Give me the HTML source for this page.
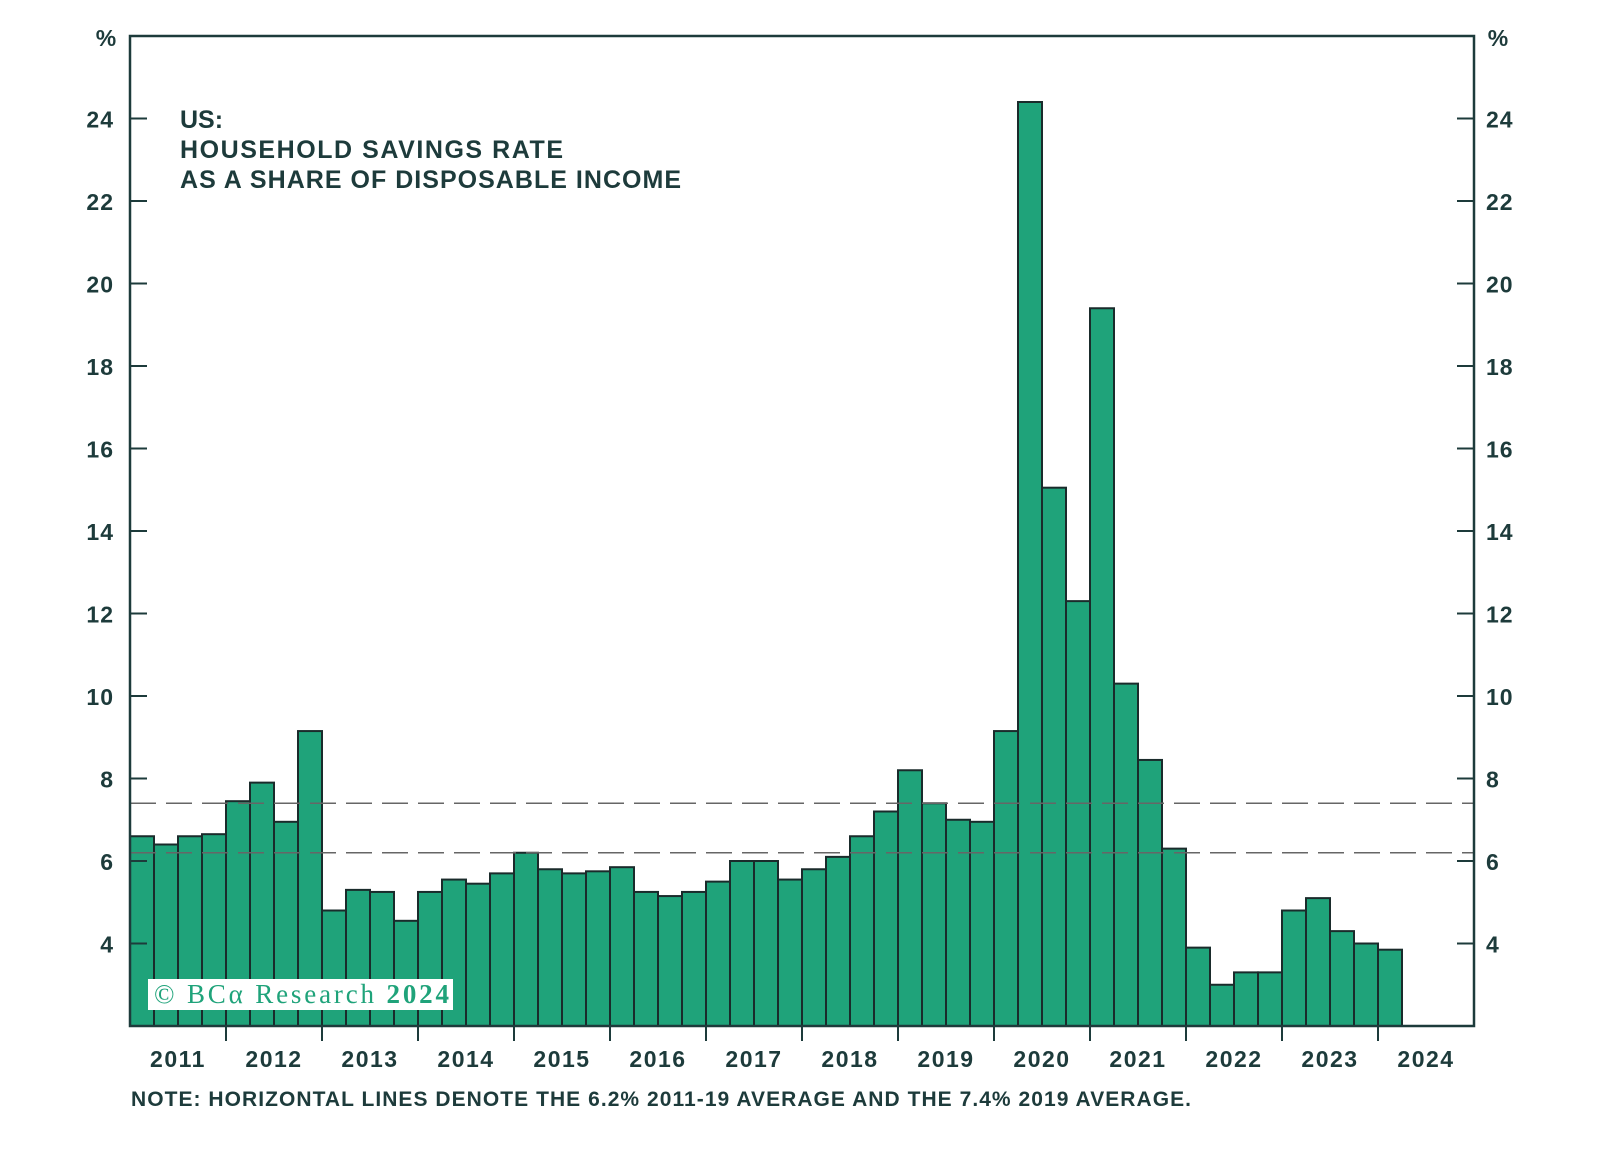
<!DOCTYPE html>
<html><head><meta charset="utf-8"><style>
html,body{margin:0;padding:0;background:#fff;}
svg{display:block;font-family:"Liberation Sans",sans-serif;}
</style></head><body>
<svg id="chart" width="1600" height="1156" viewBox="0 0 1600 1156">
<g id="bars"></g>
<g id="axes"></g>
<text x="180" y="128" font-size="25" font-weight="bold" fill="#1d3b3b">US:</text>
<text x="180" y="158" font-size="25" font-weight="bold" fill="#1d3b3b" textLength="383">HOUSEHOLD SAVINGS RATE</text>
<text x="180" y="188" font-size="25" font-weight="bold" fill="#1d3b3b" textLength="501">AS A SHARE OF DISPOSABLE INCOME</text>
<rect x="148" y="979" width="305" height="31" fill="#ffffff"/>
<text x="154" y="1003" font-family="Liberation Serif,serif" font-size="27" fill="#1fa37a" textLength="295">© BCα Research <tspan font-weight="bold">2024</tspan></text>
<text x="131" y="1106" font-size="21" font-weight="bold" fill="#1d3b3b" textLength="1060">NOTE: HORIZONTAL LINES DENOTE THE 6.2% 2011-19 AVERAGE AND THE 7.4% 2019 AVERAGE.</text>
<text x="106" y="46" font-size="23" font-weight="bold" fill="#1d3b3b" text-anchor="middle">%</text>
<text x="1498" y="46" font-size="23" font-weight="bold" fill="#1d3b3b" text-anchor="middle">%</text>
</svg>
<script>
const values = [6.6,6.4,6.6,6.65, 7.45,7.9,6.95,9.15, 4.8,5.3,5.25,4.55, 5.25,5.55,5.45,5.7, 6.2,5.8,5.7,5.75, 5.85,5.25,5.15,5.25, 5.5,6.0,6.0,5.55, 5.8,6.1,6.6,7.2, 8.2,7.4,7.0,6.95, 9.15,24.4,15.05,12.3, 19.4,10.3,8.45,6.3, 3.9,3.0,3.3,3.3, 4.8,5.1,4.3,4.0, 3.85];
const years = [2011,2012,2013,2014,2015,2016,2017,2018,2019,2020,2021,2022,2023,2024];
const yTicks = [4,6,8,10,12,14,16,18,20,22,24];
const avgLines = [6.2,7.4];
const L=130,R=1474,T=36,B=1026,yMin=2,yMax=26,nQ=56;
const NS="http://www.w3.org/2000/svg";
const y=v=>B-(v-yMin)/(yMax-yMin)*(B-T);
const x=q=>L+q*(R-L)/nQ;
const bars=document.getElementById('bars'),axes=document.getElementById('axes');
function mk(tag,attrs,parent){const e=document.createElementNS(NS,tag);for(const k in attrs)e.setAttribute(k,attrs[k]);parent.appendChild(e);return e;}
values.forEach((v,i)=>{const r=mk('rect',{x:x(i),y:y(v),width:x(i+1)-x(i),height:B-y(v),fill:'#1fa37a',stroke:'#1a2b2b','stroke-width':2},bars);

});
avgLines.forEach(v=>{const l=mk('line',{x1:L,x2:R,y1:y(v),y2:y(v),stroke:'#666','stroke-width':1.5,'stroke-dasharray':'26,10'},axes);

});
const f=mk('rect',{x:L,y:T,width:R-L,height:B-T,fill:'none',stroke:'#1d3b3b','stroke-width':2.5},axes);


yTicks.forEach(v=>{mk('line',{x1:L,x2:L+17,y1:y(v),y2:y(v),stroke:'#1d3b3b','stroke-width':2},axes);
mk('line',{x1:R-17,x2:R,y1:y(v),y2:y(v),stroke:'#1d3b3b','stroke-width':2},axes);
const a=mk('text',{x:114,y:y(v)+9,'font-size':23,'font-weight':'bold',fill:'#1d3b3b','text-anchor':'end','letter-spacing':1},axes);a.textContent=v;


const b=mk('text',{x:1486,y:y(v)+9,'font-size':23,'font-weight':'bold',fill:'#1d3b3b','letter-spacing':1},axes);b.textContent=v;

});
years.forEach((yr,i)=>{if(i>0)mk('line',{x1:x(i*4),x2:x(i*4),y1:B,y2:B+15,stroke:'#1d3b3b','stroke-width':2},axes);
const t=mk('text',{x:x(i*4+2),y:1067,'font-size':23,'font-weight':'bold',fill:'#1d3b3b','text-anchor':'middle','letter-spacing':1.5},axes);t.textContent=yr;

});
</script>
</body></html>
